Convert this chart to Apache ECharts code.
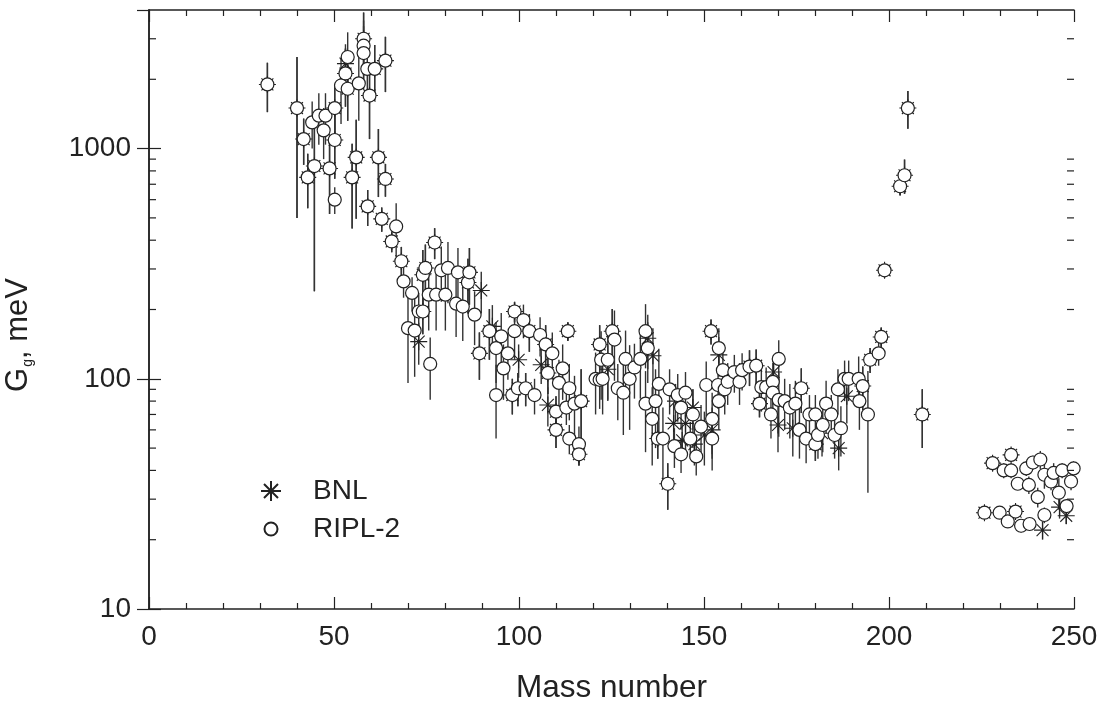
<!DOCTYPE html>
<html>
<head>
<meta charset="utf-8">
<script src="https://cdn.jsdelivr.net/npm/echarts@6/dist/echarts.min.js"></script>
<style>
  html, body { margin: 0; padding: 0; background: #fff; }
  #chart { width: 1107px; height: 706px; }
</style>
</head>
<body>
<div id="chart"></div>
<script>
// Radiative widths G_g (meV) versus mass number, two evaluations with uncertainties.

const bnlA = [32, 40, 41.8, 42.9, 44.7, 48.8, 50.2, 50.2, 53.1, 53.1, 53.7, 54.9, 56, 58, 59.1, 59.6, 61, 62, 62.9, 63.9, 63.9, 65.6, 68.2, 72.9, 74, 74, 74.7, 77.2, 86.2, 86.6, 89.3, 89.8, 92, 92.8, 98.2, 98.8, 99.7, 99.9, 101.8, 102.8, 106, 107.2, 107.8, 107.8, 110, 110, 113.2, 116.2, 116.8, 121.8, 124, 125.2, 134.8, 136.2, 137.5, 140.2, 141.8, 142.3, 144.1, 145, 147, 147.4, 150.1, 151.9, 152.2, 154, 162.3, 164.1, 165, 168.8, 170, 174, 176.3, 180.1, 181.9, 186.4, 188.6, 192.9, 194.9, 197.9, 198.8, 203, 204.2, 205.1, 209, 225.8, 228, 233, 234.2, 241.5, 246.1, 247.9];
const bnlG = [1900, 1500, 1100, 750, 840, 820, 1500, 1090, 2120, 2340, 1820, 750, 916, 3000, 561, 1700, 2220, 916, 495, 2410, 738, 395, 324, 145, 196, 283, 303, 391, 262, 290, 129, 242, 161, 169, 85, 196, 91, 121, 91, 161, 115, 141, 106, 77, 72, 60, 161, 47, 80, 141, 110, 161, 150, 126, 55, 35, 64, 80, 54, 64, 75, 52, 57, 161, 60, 127, 113, 114, 78, 107, 63, 61, 91, 52, 58, 50, 84, 93, 121, 152, 296, 686, 766, 1500, 70, 26.2, 43, 46.7, 26.5, 22, 27.7, 25.4];
const bnlErr = [460, 1000, 250, 200, 600, 300, 400, 350, 600, 500, 500, 300, 420, 900, 100, 600, 600, 300, 60, 650, 120, 40, 50, 30, 40, 80, 80, 60, 70, 80, 30, 50, 40, 40, 15, 20, 15, 20, 15, 30, 20, 30, 20, 15, 12, 10, 15, 5, 30, 30, 30, 40, 40, 40, 10, 8, 15, 15, 10, 15, 15, 10, 15, 20, 15, 25, 20, 20, 10, 20, 15, 15, 20, 8, 12, 10, 20, 20, 15, 15, 20, 60, 130, 280, 20, 1.5, 3, 3, 1.5, 2, 3, 2];

const riplA = [32, 40, 41.8, 42.9, 44.1, 44.7, 45.9, 47.2, 47.7, 48.8, 50.2, 50.2, 50.2, 51.9, 53.1, 53.7, 53.7, 54.9, 56, 56.7, 58, 58, 58, 59, 59.1, 59.6, 61, 62, 62.9, 63.9, 63.9, 65.6, 66.8, 68.2, 68.8, 70, 71.1, 71.8, 72.9, 74, 74, 74.7, 75.6, 76, 77.2, 77.6, 79, 80.1, 80.8, 83, 83.5, 84.8, 86.2, 86.6, 88, 89.3, 92, 93.8, 93.8, 95.2, 95.8, 97, 98.2, 98.8, 98.8, 99.7, 101.2, 101.8, 102.8, 104.2, 105.7, 107.2, 107.8, 109, 110, 110, 110.8, 111.8, 112.8, 113.2, 113.6, 113.6, 115, 116.2, 116.2, 116.8, 120.7, 121.8, 121.8, 122.2, 122.6, 124, 125.2, 125.8, 126.7, 128.2, 128.8, 129.9, 131.2, 132.8, 134.2, 134.2, 134.8, 136, 136.9, 137.5, 137.8, 138.9, 140.2, 140.7, 142, 142.9, 143.8, 143.8, 145, 146.3, 147, 147.9, 149.2, 150.6, 151.9, 152.2, 152.2, 153.8, 154, 154, 155.1, 155.6, 156.4, 158.2, 159.6, 160.3, 162.3, 164.1, 165, 165.5, 166.8, 168.1, 168.6, 168.6, 170.2, 170.2, 171.8, 173.2, 174.7, 175.8, 176.3, 177.6, 178.5, 180.1, 180.1, 180.8, 182.1, 183, 184.4, 185.3, 186.2, 187, 188, 189.1, 191.8, 192, 192.9, 194.3, 194.9, 197.2, 197.9, 198.8, 203, 204.2, 205.1, 209, 225.8, 228, 229.9, 231, 232.1, 233, 233, 234.2, 234.8, 235.7, 237.1, 237.8, 238, 238.9, 240.2, 240.9, 242, 242, 243.8, 244.5, 245.9, 246.8, 248, 249.2, 249.9];
const riplG = [1900, 1500, 1100, 750, 1300, 840, 1390, 1200, 1390, 820, 1500, 1090, 600, 1880, 2120, 2500, 1820, 750, 916, 1920, 3000, 2800, 2600, 2220, 561, 1700, 2220, 916, 495, 2410, 738, 395, 459, 324, 265, 166, 236, 162, 196, 196, 283, 303, 232, 116, 391, 232, 296, 232, 303, 212, 290, 206, 262, 290, 190, 129, 161, 136, 85, 153, 111, 129, 85, 196, 161, 91, 180, 91, 161, 85, 155, 141, 106, 129, 72, 60, 96, 111, 75, 161, 91, 55, 78, 52, 47, 80, 100, 99, 141, 121, 100, 121, 161, 148, 91, 87, 122, 100, 112, 122, 161, 78, 136, 67, 80, 55, 95, 55, 35, 90, 51, 85, 75, 47, 87, 55, 70, 46, 62, 94, 161, 67, 55, 94, 136, 80, 109, 90, 97, 107, 97, 109, 113, 114, 78, 92, 92, 70, 97, 87, 122, 81, 80, 75, 78, 60, 91, 55, 70, 70, 52, 57, 63, 78, 70, 57, 90, 61, 100, 100, 100, 80, 93, 70, 121, 129, 152, 296, 686, 766, 1500, 70, 26.2, 43, 26.2, 40, 24, 46.7, 40, 26.5, 35, 23, 40.8, 34.6, 23.4, 43.3, 30.6, 44.6, 38.3, 25.6, 35.8, 39, 32, 40, 28, 35.8, 40.8];
const riplErr = [460, 1000, 250, 200, 300, 600, 350, 300, 350, 300, 400, 350, 80, 600, 600, 700, 500, 300, 420, 600, 900, 800, 800, 600, 100, 600, 600, 300, 60, 650, 120, 40, 120, 50, 40, 70, 40, 60, 40, 40, 80, 80, 70, 35, 60, 70, 80, 70, 90, 60, 80, 60, 70, 80, 50, 30, 40, 40, 30, 40, 30, 30, 15, 20, 40, 15, 30, 15, 30, 15, 30, 30, 20, 30, 12, 10, 25, 30, 12, 15, 25, 8, 25, 10, 5, 30, 30, 25, 30, 40, 30, 40, 40, 50, 25, 30, 40, 40, 30, 40, 50, 30, 40, 25, 30, 10, 40, 20, 8, 20, 10, 20, 15, 8, 20, 10, 20, 8, 15, 25, 20, 20, 15, 20, 30, 20, 25, 20, 20, 20, 20, 20, 20, 20, 10, 20, 20, 15, 20, 20, 25, 25, 20, 20, 20, 15, 20, 12, 15, 15, 8, 12, 15, 20, 15, 12, 20, 15, 20, 20, 25, 20, 20, 38, 15, 15, 15, 20, 60, 130, 280, 20, 1.5, 3, 1.5, 3, 1.5, 3, 3, 1.5, 2, 1.5, 3, 3, 1.5, 3, 3, 4, 5, 2, 3, 4, 5, 3, 2, 3, 3];

// Log-axis minor tick positions (2..9 per decade)
const logMinorTicks = [20, 30, 40, 50, 60, 70, 80, 90, 200, 300, 400, 500, 600, 700, 800, 900, 2000, 3000];

const INK = '#222';
const FONT = 'Liberation Sans, Arial, sans-serif';
const STAR = 'path://M10,0L10,20M0,10L20,10M3,3L17,17M3,17L17,3';
// circle of diameter 13 centred in a 20x20 box (the two moves only set the box)
const SMALL_CIRCLE = 'path://M0,0M20,20M16.5,10A6.5,6.5,0,1,1,3.5,10A6.5,6.5,0,1,1,16.5,10Z';

function points(a, g) { return a.map((x, i) => [x, g[i]]); }
function bars(a, g, e) { return a.map((x, i) => [x, Math.max(g[i] - e[i], 0.001), g[i] + e[i]]); }

function renderBar(params, api) {
  const x = api.value(0);
  const p1 = api.coord([x, api.value(2)]);
  const p2 = api.coord([x, api.value(1)]);
  return {
    type: 'line',
    shape: { x1: p1[0], y1: p1[1], x2: p2[0], y2: p2[1] },
    style: { stroke: '#333', lineWidth: 1.4 }
  };
}

function renderMinor(params, api) {
  const cs = params.coordSys;
  const y = api.coord([0, api.value(0)])[1];
  return {
    type: 'group',
    children: [
      { type: 'line', shape: { x1: cs.x, y1: y, x2: cs.x + 7, y2: y }, style: { stroke: INK, lineWidth: 1.2 } },
      { type: 'line', shape: { x1: cs.x + cs.width - 7, y1: y, x2: cs.x + cs.width, y2: y }, style: { stroke: INK, lineWidth: 1.2 } }
    ]
  };
}

function decadeLabel(v) {
  const p = Math.log10(v);
  return Math.abs(p - Math.round(p)) < 1e-6 ? String(Math.round(v)) : '';
}

const axisLine = { show: true, lineStyle: { color: INK, width: 1.5 } };
const tickStyle = { show: true, inside: true, length: 12, lineStyle: { color: INK, width: 1.2 } };
const labelFont = { fontFamily: FONT, fontSize: 28, color: INK };

const chart = echarts.init(document.getElementById('chart'), null, { renderer: 'canvas' });
chart.setOption({
  animation: false,
  backgroundColor: '#fff',
  grid: { left: 149, right: 33, top: 10, bottom: 97, containLabel: false, outerBoundsMode: 'none' },
  xAxis: [
    {
      type: 'value', min: 0, max: 250, interval: 50,
      axisLine, axisTick: tickStyle,
      minorTick: { show: true, splitNumber: 5, length: 6, lineStyle: { color: INK, width: 1.2 } },
      splitLine: { show: false },
      axisLabel: Object.assign({ margin: 14 }, labelFont),
      name: 'Mass number', nameLocation: 'middle', nameGap: 63,
      nameTextStyle: { fontFamily: FONT, fontSize: 31.5, color: INK }
    },
    {
      type: 'value', position: 'top', min: 0, max: 250, interval: 50,
      axisLine, axisTick: tickStyle,
      minorTick: { show: true, splitNumber: 5, length: 6, lineStyle: { color: INK, width: 1.2 } },
      splitLine: { show: false }, axisLabel: { show: false }
    }
  ],
  yAxis: [
    {
      type: 'log', logBase: 10, min: 10, max: 4000,
      axisLine, axisTick: tickStyle,
      splitLine: { show: false },
      axisLabel: Object.assign({ margin: 18, formatter: decadeLabel, showMaxLabel: false }, labelFont)
    },
    {
      type: 'log', logBase: 10, min: 10, max: 4000, position: 'right',
      axisLine, axisTick: tickStyle,
      splitLine: { show: false }, axisLabel: { show: false }
    }
  ],
  graphic: [
    {
      type: 'text', x: 18, y: 335, rotation: Math.PI / 2,
      style: {
        text: '{a|G}{s|g}{a|, meV}',
        align: 'center', verticalAlign: 'middle',
        rich: {
          a: { fontFamily: FONT, fontSize: 31, fill: INK },
          s: { fontFamily: FONT, fontSize: 14, fill: INK, padding: [20, 0, 0, 1] }
        }
      }
    }
  ],
  legend: {
    orient: 'vertical', left: 255, top: 472, itemGap: 10,
    itemWidth: 20, itemHeight: 20, symbolKeepAspect: true,
    data: [
      { name: 'BNL', icon: STAR },
      { name: 'RIPL-2', icon: SMALL_CIRCLE }
    ],
    textStyle: { fontFamily: FONT, fontSize: 28, color: INK, padding: [0, 0, 0, 27] }
  },
  series: [
    {
      name: 'BNL bars', type: 'custom', renderItem: renderBar, clip: true, silent: true, z: 1,
      encode: { x: 0, y: [1, 2] }, data: bars(bnlA, bnlG, bnlErr)
    },
    {
      name: 'RIPL-2 bars', type: 'custom', renderItem: renderBar, clip: true, silent: true, z: 1,
      encode: { x: 0, y: [1, 2] }, data: bars(riplA, riplG, riplErr)
    },
    {
      name: 'minor ticks', type: 'custom', renderItem: renderMinor, silent: true, z: 5,
      encode: { y: 0 }, data: logMinorTicks.map(v => [v])
    },
    {
      name: 'BNL', type: 'scatter', symbol: STAR, symbolSize: 17, z: 2,
      itemStyle: { color: 'rgba(0,0,0,0)', borderColor: INK, borderWidth: 1.1, opacity: 1 },
      data: points(bnlA, bnlG)
    },
    {
      name: 'RIPL-2', type: 'scatter', symbol: 'circle', symbolSize: 13, z: 3,
      itemStyle: { color: '#fff', borderColor: INK, borderWidth: 1.2, opacity: 1 },
      data: points(riplA, riplG)
    }
  ]
});
</script>
</body>
</html>
